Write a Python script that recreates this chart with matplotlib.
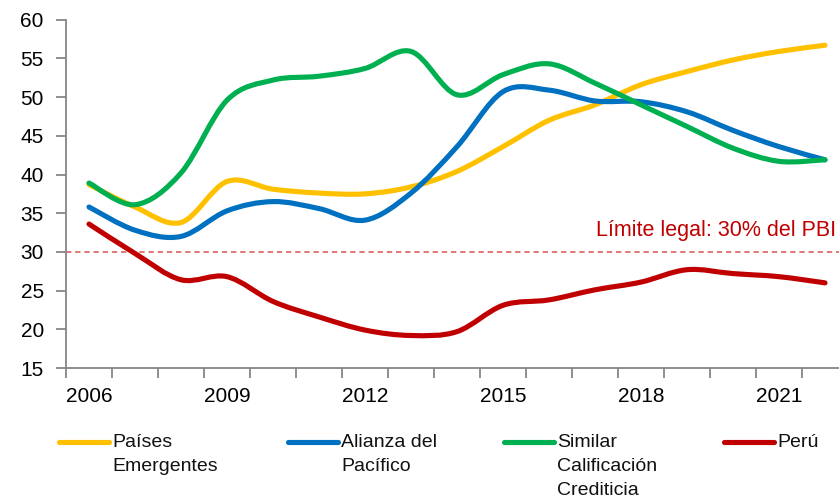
import numpy as np
import matplotlib
matplotlib.use("Agg")
from matplotlib import pyplot as plt
from matplotlib.path import Path
from matplotlib.patches import PathPatch
from matplotlib.lines import Line2D

plt.rcParams['font.family'] = ['Liberation Sans', 'DejaVu Sans']

years = np.arange(2006, 2023)
emergentes = [38.7, 35.8, 33.8, 39.1, 38.1, 37.6, 37.5, 38.4, 40.4, 43.6, 47.0, 49.0, 51.6, 53.3, 54.8, 55.9, 56.7]
alianza = [35.8, 32.8, 32.0, 35.3, 36.5, 35.6, 34.1, 37.6, 43.6, 50.7, 50.9, 49.5, 49.4, 48.1, 45.7, 43.6, 41.9]
similar = [38.9, 36.1, 40.2, 49.6, 52.2, 52.7, 53.7, 55.9, 50.3, 52.9, 54.3, 51.8, 49.0, 46.2, 43.4, 41.7, 41.9]
peru = [33.6, 29.8, 26.4, 26.8, 23.6, 21.6, 19.9, 19.2, 19.7, 23.1, 23.8, 25.1, 26.1, 27.7, 27.2, 26.8, 26.0]

series_names = ["Países\nEmergentes", "Alianza del\nPacífico", "Similar\nCalificación\nCrediticia", "Perú"]
series_values = [emergentes, alianza, similar, peru]
colors = ["#FFC000", "#0070C0", "#00B050", "#C00000"]

limit_value = 30
limit_text = "Límite legal: 30% del PBI"
label_years = [2006, 2009, 2012, 2015, 2018, 2021]


def smooth_path(x, y):
    # excel style smoothed line: cubic bezier segments (catmull-rom control points)
    pts = np.column_stack([x, y]).astype(float)
    n = len(pts)
    verts = [pts[0]]
    codes = [Path.MOVETO]
    for i in range(n - 1):
        p0 = pts[i - 1] if i > 0 else pts[i]
        p1 = pts[i]
        p2 = pts[i + 1]
        p3 = pts[i + 2] if i + 2 < n else pts[i + 1]
        c1 = p1 + (p2 - p0) / 6.0
        c2 = p2 - (p3 - p1) / 6.0
        verts += [c1, c2, p2]
        codes += [Path.CURVE4] * 3
    return Path(verts, codes)


fig = plt.figure(figsize=(8.39, 5.01), dpi=100)
ax = fig.add_axes([66 / 839, 133 / 501, 782 / 839, 348.3 / 501])

for vals, col in zip(series_values, colors):
    patch = PathPatch(smooth_path(years, vals), fill=False, edgecolor=col,
                      lw=3.7, capstyle='round', joinstyle='round', zorder=3)
    ax.add_patch(patch)

ax.axhline(limit_value, color="#D9534F", lw=1.1, linestyle=(0, (3.5, 2.5)), zorder=2)
ax.text(2022.25, limit_value + 2.0, limit_text, color="#C00000", fontsize=15.5,
        ha='right', va='baseline')

ax.set_xlim(years[0] - 0.5, years[-1] + 0.5)
ax.set_ylim(15, 60)
ax.set_yticks(np.arange(15, 61, 5))

ax.set_xticks(np.arange(years[0] - 0.5, years[-1] + 1, 1))
ax.set_xticklabels([])
ax.set_xticks(label_years, minor=True)
ax.set_xticklabels([str(y) for y in label_years], minor=True)
ax.tick_params(axis='x', which='minor', length=0, pad=14, labelsize=15)
ax.tick_params(axis='x', which='major', length=7, width=1.3, color="#868686")
ax.tick_params(axis='y', length=7, width=1.3, color="#868686", pad=9, labelsize=15)

for side in ['top', 'right']:
    ax.spines[side].set_visible(False)
for side in ['left', 'bottom']:
    ax.spines[side].set_color("#868686")
    ax.spines[side].set_linewidth(1.3)

# legend drawn by hand so the line sits on the first text row
leg_x = [59, 288, 504, 724]
leg_y = 1 - 442 / 501
for x0, name, col in zip(leg_x, series_names, colors):
    fig.add_artist(Line2D([x0 / 839, (x0 + 50) / 839], [leg_y, leg_y], color=col,
                          lw=3.7, solid_capstyle='round', transform=fig.transFigure))
    fig.text((x0 + 53) / 839, leg_y + 8 / 501, name, fontsize=14, ha='left', va='top',
             linespacing=1.55, color="#111111")

fig.savefig("out.png", dpi=100)
